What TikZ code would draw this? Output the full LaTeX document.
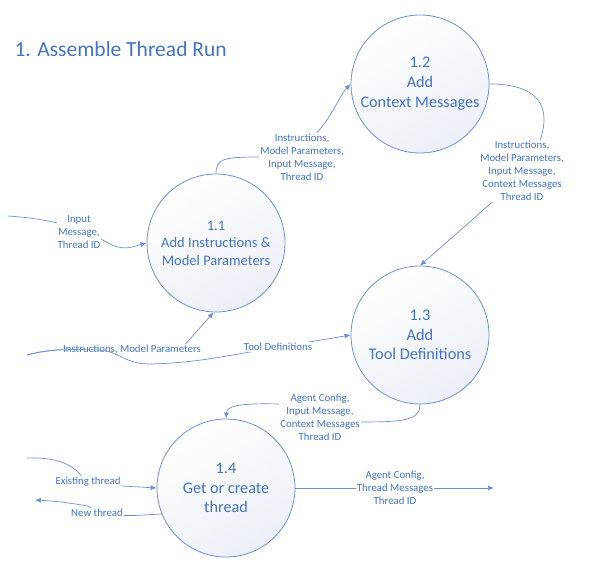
\documentclass[tikz,border=0pt]{standalone}
\usepackage{fontspec}
\setmainfont{Carlito}
\usetikzlibrary{arrows.meta}
\definecolor{txt}{HTML}{4472C4}
\definecolor{ln}{HTML}{6E8ED4}
\definecolor{shd}{HTML}{ECEFF6}
\tikzset{
  proc/.style={circle, draw=ln, line width=0.8pt, minimum size=138pt, inner sep=0pt,
    top color=white, bottom color=shd, shading angle=30, text=txt, align=center},
  lbl/.style={fill=white, inner sep=1pt, text=txt, align=center, font=\fontsize{10.8}{13}\selectfont},
  flow/.style={draw=ln, line width=0.7pt, -{Latex[length=6pt,width=5pt]}},
  plain/.style={draw=ln, line width=0.7pt}
}
\begin{document}
\begin{tikzpicture}[x=1pt,y=-1pt]
\path[use as bounding box] (0,0) rectangle (590,571);
\node[text=txt, font=\fontsize{21.5}{24}\selectfont, anchor=west] (title) at (11,49) {1. Assemble Thread Run};

\node[proc, font=\fontsize{14.5}{17.5}\selectfont] (a) at (216,243) {1.1\\Add Instructions \&\\Model Parameters};
\node[proc, font=\fontsize{16.2}{20}\selectfont] (b) at (420,84) {1.2\\Add\\Context Messages};
\node[proc, font=\fontsize{16.3}{19.5}\selectfont] (c) at (420,335) {1.3\\Add\\Tool Definitions};
\node[proc, font=\fontsize{16.2}{19.5}\selectfont] (d) at (226,488) {1.4\\Get or create\\thread};

\coordinate (inA) at (8,216);
\coordinate (inL) at (27,355);
\coordinate (inE) at (27,458);
\coordinate (outN) at (35,500);
\coordinate (outR) at (494,488);

% Input message -> 1.1
\path[flow] (inA) .. controls (70,220) and (95,236) .. (112,245) .. controls (125,251) and (135,246) .. (a.west);
\node[lbl] (l1) at (79,232) {Input\\Message,\\Thread ID};

% 1.1 -> 1.2
\path[flow] (a.north) .. controls (216,158) and (225,157) .. (262,157) .. controls (320,157) and (335,100) .. (b.west);
\node[lbl] (l2) at (302,157) {Instructions,\\Model Parameters,\\Input Message,\\Thread ID};

% 1.2 -> 1.3
\path[flow] (b.east) .. controls (560,84) and (552,130) .. (522,176) -- (c.north);
\node[lbl] (l3) at (522,171) {Instructions,\\Model Parameters,\\Input Message,\\Context Messages\\Thread ID};

% Instructions, Model Parameters -> 1.1
\path[flow] (inL) .. controls (45,350) and (60,349) .. (90,349) -- (182,348) -- (a.-92);
\node[lbl] (l4) at (132,349) {Instructions, Model Parameters};

% Tool Definitions -> 1.3
\path[flow] (inL) .. controls (50,349) and (70,349) .. (100,350) .. controls (120,352) and (125,364) .. (150,364) .. controls (190,363) and (215,358) .. (250,352) -- (c.west);
\node[lbl] (l5) at (278,347) {Tool Definitions};

% 1.3 -> 1.4
\path[flow] (c.south) .. controls (420,422) and (400,422) .. (350,422) -- (300,412) -- (280,404) .. controls (238,403) and (227,406) .. (d.north);
\node[lbl] (l6) at (320,417.5) {Agent Config,\\Input Message,\\Context Messages\\Thread ID};

% Existing thread -> 1.4
\path[flow] (inE) .. controls (60,457) and (76,466) .. (84,480) -- (122,486) -- (d.west);
\node[lbl] (l7) at (88,482) {Existing thread};

% 1.4 -> New thread
\path[flow] (d.-158) .. controls (140,515) and (128,517) .. (100,514) -- (88,506) .. controls (70,503) and (55,501) .. (outN);
\node[lbl] (l8) at (97,513) {New thread};

% 1.4 -> output
\path[flow] (d.east) -- (outR);
\node[lbl] (l9) at (395,488) {Agent Config,\\Thread Messages\\Thread ID};
\end{tikzpicture}
\end{document}
